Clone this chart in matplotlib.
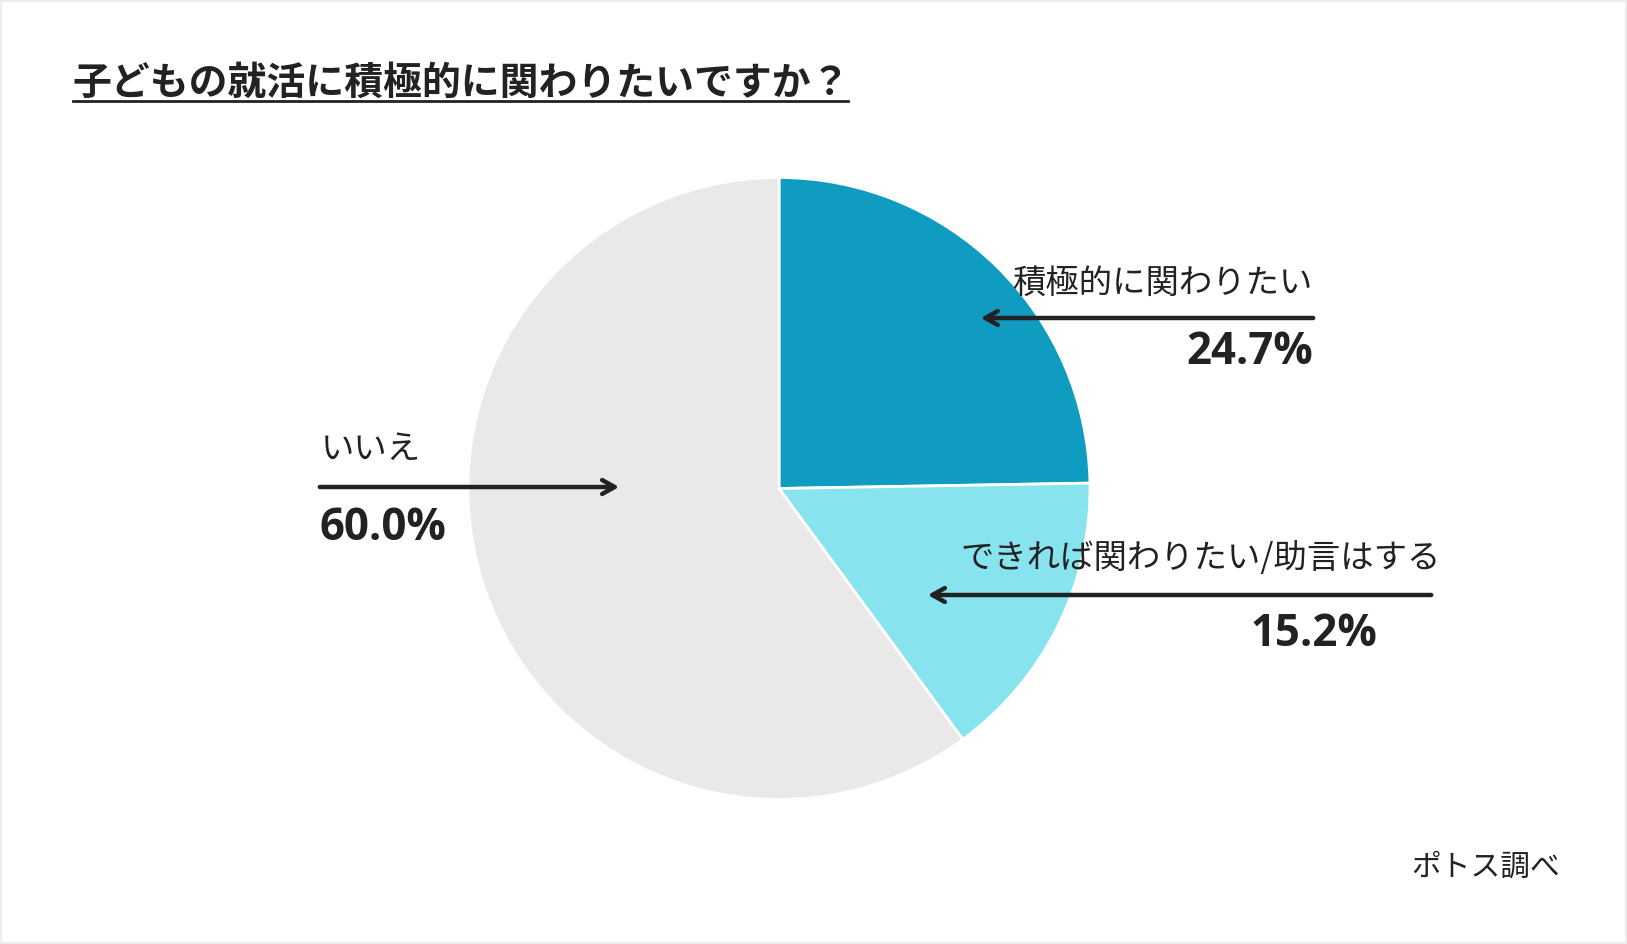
import matplotlib
matplotlib.use("Agg")
import matplotlib.pyplot as plt
from matplotlib.patches import Rectangle

plt.rcParams['font.family'] = ['Noto Sans CJK JP', 'DejaVu Sans']

title = "子どもの就活に積極的に関わりたいですか？"
categories = ["積極的に関わりたい", "できれば関わりたい/助言はする", "いいえ"]
values = [24.7, 15.2, 60.0]
pct_labels = ["24.7%", "15.2%", "60.0%"]
colors = ["#109BC0", "#87E4EF", "#EAE8E9"]
source = "ポトス調べ"

W, H = 1627, 944
fig = plt.figure(figsize=(W / 100, H / 100), dpi=100)
ax = fig.add_axes([0, 0, 1, 1])
ax.set_xlim(0, W)
ax.set_ylim(0, H)
ax.axis('off')

def Y(y):
    return H - y

# border
fig.patches.append(Rectangle((0, 0), 1, 1, transform=fig.transFigure,
                             fill=False, edgecolor="#EEEEEE", linewidth=3))

# pie
ax.pie(values, colors=colors, startangle=90, counterclock=False,
       center=(779, Y(488.5)), radius=311,
       wedgeprops=dict(edgecolor="white", linewidth=2))
ax.set_xlim(0, W)
ax.set_ylim(0, H)
ax.set_aspect('equal')

tc = "#222222"
# title
ax.text(73, Y(83), title, fontsize=28, fontweight='bold', color=tc,
        ha='left', va='center')
ax.plot([73, 848], [Y(101), Y(101)], color=tc, linewidth=2)

arrow_kw = dict(arrowstyle="->,head_length=0.9,head_width=0.5", color=tc, lw=3.2)
pfam = ['Open Sans', 'DejaVu Sans']

# 積極的に関わりたい
ax.text(1313, Y(283), categories[0], fontsize=24, color=tc, ha='right', va='center')
ax.annotate("", xy=(978, Y(318)), xytext=(1316, Y(318)), arrowprops=arrow_kw)
ax.text(1313, Y(352), pct_labels[0], fontsize=31.5, fontweight='bold', color=tc,
        ha='right', va='center', family=pfam)

# できれば
ax.text(1441, Y(559), categories[1], fontsize=24, color=tc, ha='right', va='center')
ax.annotate("", xy=(925, Y(595)), xytext=(1434, Y(595)), arrowprops=arrow_kw)
ax.text(1377, Y(634), pct_labels[1], fontsize=31.5, fontweight='bold', color=tc,
        ha='right', va='center', family=pfam)

# いいえ
ax.text(321, Y(449), categories[2], fontsize=24, color=tc, ha='left', va='center')
ax.annotate("", xy=(622, Y(487)), xytext=(317, Y(487)), arrowprops=arrow_kw)
ax.text(320, Y(528), pct_labels[2], fontsize=31.5, fontweight='bold', color=tc,
        ha='left', va='center', family=pfam)

# source
ax.text(1560, Y(867), source, fontsize=21.4, color=tc, ha='right', va='center')

fig.savefig("out.png", dpi=100, facecolor="white")
